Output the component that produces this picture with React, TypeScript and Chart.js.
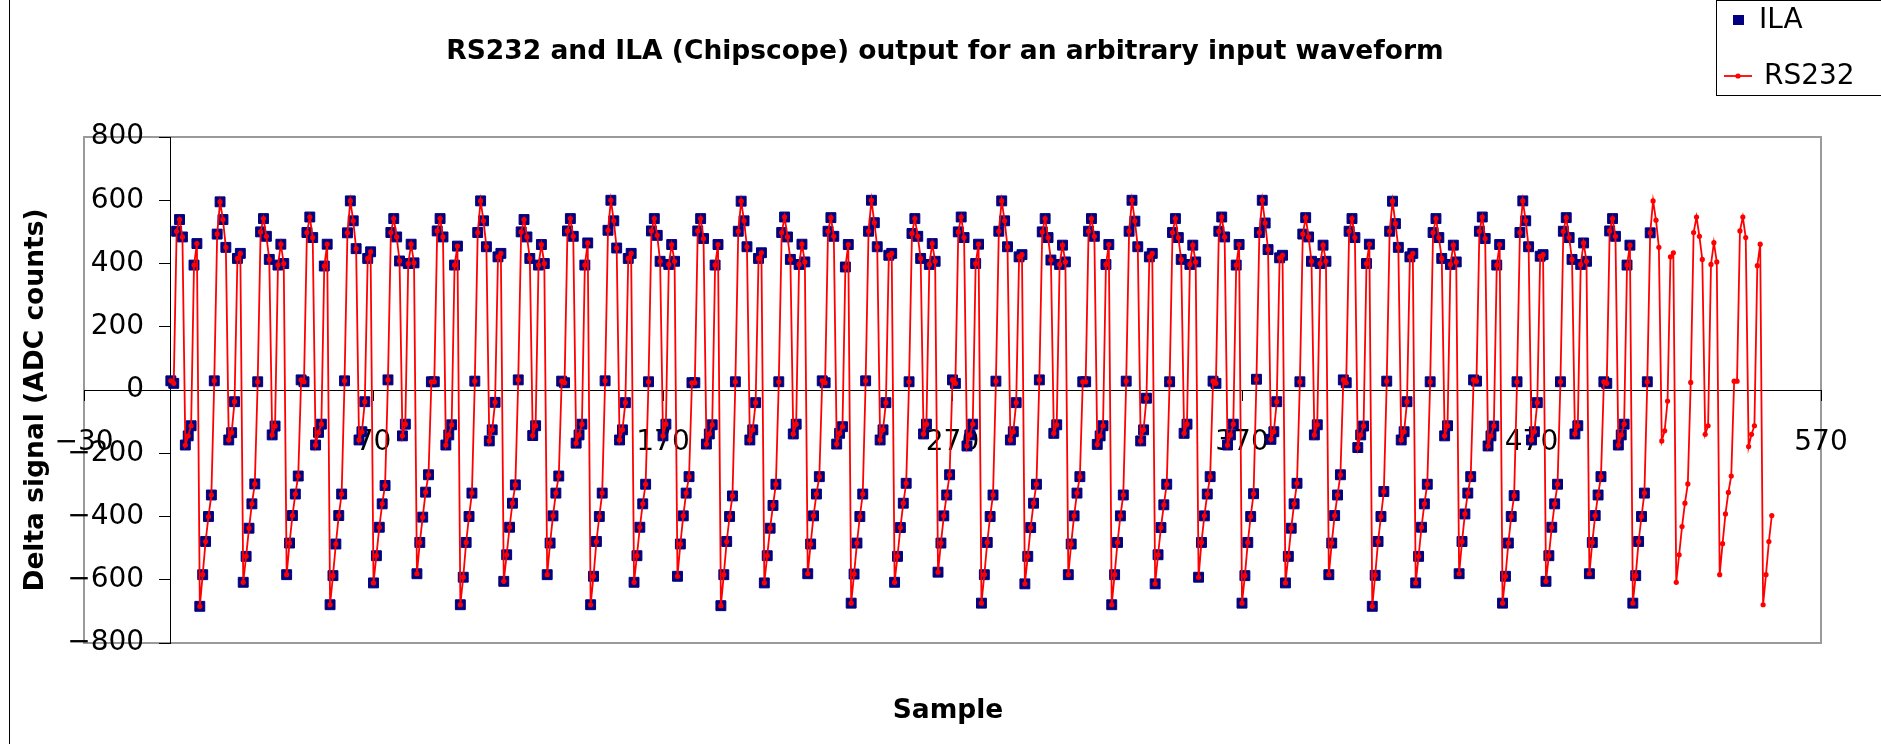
import React, { useEffect, useRef } from 'react';
import { Chart, registerables } from 'chart.js';

Chart.register(...registerables);

// Axis settings
const xMin = -30;
const xMax = 570;
const xStep = 100;
const yMin = -800;
const yMax = 800;
const yStep = 200;

// Number of samples captured by ILA (RS232 continues further)
const ilaCount = 512;

// RS232 / ILA values (ADC counts), one array per 45-sample repetition of the waveform
const cycle01 = [29, 21, 502, 539, 484, -174, -145, -113, 395, 463, -684, -584, -479, -400, -332, 29, 493, 595, 539, 451, -158, -135, -37, 416, 432, -608, -526, -437, -360, -297, 26, 500, 542, 486, 413, -142, -114, 395, 461, 400, -584, -484, -397, -329, -272];
const cycle02 = [32, 26, 498, 547, 482, -174, -134, -108, 392, 461, -679, -587, -487, -397, -329, 29, 497, 598, 535, 447, -158, -132, -37, 416, 437, -610, -524, -434, -360, -302, 32, 498, 542, 484, 408, -145, -108, 400, 461, 402, -581, -482, -402, -323, -268];
const cycle03 = [26, 26, 503, 542, 484, -174, -142, -110, 395, 455, -679, -592, -482, -400, -326, 28, 498, 598, 535, 453, -161, -126, -39, 421, 432, -605, -521, -434, -358, -300, 32, 500, 539, 484, 416, -144, -113, 395, 460, 400, -584, -484, -398, -326, -272];
const cycle04 = [28, 23, 503, 542, 486, -168, -142, -108, 395, 465, -679, -589, -479, -400, -326, 29, 505, 600, 535, 449, -158, -126, -40, 416, 432, -608, -524, -434, -360, -298, 26, 503, 542, 489, 407, -145, -108, 397, 460, 407, -589, -487, -398, -326, -274];
const cycle05 = [23, 23, 503, 542, 479, -171, -139, -110, 395, 460, -682, -584, -479, -400, -335, 26, 502, 597, 535, 453, -158, -126, -40, 416, 434, -610, -524, -437, -365, -298, 26, 498, 547, 484, 413, -139, -108, 397, 461, 405, -581, -487, -398, -329, -274];
const cycle06 = [29, 23, 502, 545, 486, -171, -137, -116, 389, 460, -674, -582, -484, -400, -329, 29, 502, 600, 529, 453, -158, -126, -40, 426, 432, -608, -526, -435, -358, -295, 26, 495, 542, 486, 416, -139, -108, 397, 463, 407, -576, -484, -398, -332, -268];
const cycle07 = [32, 21, 500, 547, 482, -177, -142, -108, 400, 461, -674, -584, -482, -400, -332, 28, 502, 598, 535, 453, -158, -132, -40, 421, 428, -613, -526, -435, -358, -298, 32, 500, 542, 482, 411, -137, -110, 397, 458, 405, -584, -487, -398, -326, -274];
const cycle08 = [26, 26, 502, 542, 486, -172, -145, -113, 397, 460, -679, -584, -482, -398, -332, 28, 502, 600, 534, 453, -161, -126, -26, 421, 432, -613, -521, -435, -363, -298, 26, 498, 542, 482, 413, -137, -108, 397, 458, 405, -592, -482, -398, -329, -274];
const cycle09 = [28, 21, 502, 547, 484, -174, -142, -108, 395, 460, -674, -587, -482, -400, -328, 34, 498, 600, 528, 444, -156, -132, -37, 418, 426, -610, -526, -437, -360, -295, 26, 493, 545, 484, 407, -142, -110, 400, 458, 407, -584, -484, -397, -332, -268];
const cycle10 = [32, 23, 502, 542, 482, -182, -142, -114, 400, 461, -684, -586, -479, -400, -321, 28, 502, 597, 526, 451, -158, -132, -37, 421, 432, -610, -526, -434, -360, -298, 26, 498, 542, 482, 416, -145, -113, 397, 458, 405, -581, -479, -392, -326, -274];
const cycle11 = [32, 28, 502, 547, 479, -177, -145, -114, 395, 460, -674, -589, -484, -400, -334, 26, 498, 598, 535, 453, -158, -132, -40, 423, 428, -605, -524, -434, -360, -298, 26, 502, 545, 482, 413, -139, -113, 397, 465, 407, -581, -482, -397, -332, -274];
const cycle12 = [26, 21, 503, 542, 486, -174, -142, -108, 395, 458, -674, -587, -479, -400, -326, 26, 497, 598, 537, 451, -161, -129, -35, 421, 434, -608, -521, -432, -358, -297, 24, 498, 547, 486, 413, -140, -113, 397, 466, 405, -584, -486, -392, -324, -272];
const cycle13 = [28, 28, 503, 547, 482, -179, -140, -113, 393, 461, -679, -584, -479, -397];

const rs232Values = [
  ...cycle01, ...cycle02, ...cycle03, ...cycle04, ...cycle05, ...cycle06, ...cycle07,
  ...cycle08, ...cycle09, ...cycle10, ...cycle11, ...cycle12, ...cycle13,
];
const ilaValues = rs232Values.slice(0, ilaCount);

const seriesNames = ['ILA', 'RS232'];
const titleText = 'RS232 and ILA (Chipscope) output for an arbitrary input waveform';
const xTitle = 'Sample';
const yTitle = 'Delta signal (ADC counts)';

const NAVY = '#000080';
const RED = '#FF0000';
const FONT = '"DejaVu Sans", "Liberation Sans", Arial, sans-serif';

const fmt = (v: number) => String(v).replace('-', '\u2212');

const decorPlugin = {
  id: 'decor',
  beforeDraw(chart: any) {
    const { ctx, chartArea: a } = chart;
    ctx.save();
    ctx.fillStyle = '#ffffff';
    ctx.fillRect(0, 0, chart.width, chart.height);
    // outer chart border (left side visible)
    ctx.strokeStyle = '#000000';
    ctx.lineWidth = 1;
    ctx.beginPath();
    ctx.moveTo(9.5, 0);
    ctx.lineTo(9.5, chart.height);
    ctx.stroke();
    // plot area border
    ctx.strokeStyle = '#9a9a9a';
    ctx.lineWidth = 2;
    ctx.strokeRect(a.left, a.top, a.right - a.left, a.bottom - a.top);
    ctx.restore();
  },
  afterDraw(chart: any) {
    const { ctx } = chart;
    ctx.save();
    ctx.fillStyle = '#000000';
    ctx.textAlign = 'center';
    ctx.textBaseline = 'middle';
    ctx.font = `bold 26.5px ${FONT}`;
    ctx.fillText(titleText, 945, 52);
    ctx.fillText(xTitle, 948, 711);
    ctx.save();
    ctx.translate(36, 400);
    ctx.rotate(-Math.PI / 2);
    ctx.fillText(yTitle, 0, 0);
    ctx.restore();

    // legend box
    ctx.strokeStyle = '#000000';
    ctx.lineWidth = 1;
    ctx.strokeRect(1716.5, 0.5, 200, 95);
    ctx.fillStyle = NAVY;
    ctx.fillRect(1733, 15, 11, 10);
    ctx.strokeStyle = RED;
    ctx.lineWidth = 1.8;
    ctx.beginPath();
    ctx.moveTo(1724, 76);
    ctx.lineTo(1752, 76);
    ctx.stroke();
    ctx.fillStyle = RED;
    ctx.beginPath();
    ctx.arc(1738, 76, 2.6, 0, Math.PI * 2);
    ctx.fill();
    ctx.fillStyle = '#000000';
    ctx.textAlign = 'left';
    ctx.font = `28px ${FONT}`;
    ctx.fillText(seriesNames[0], 1759, 21);
    ctx.fillText(seriesNames[1], 1764, 77);
    ctx.restore();
  },
};

export default function App() {
  const canvasRef = useRef<HTMLCanvasElement | null>(null);

  useEffect(() => {
    const canvas = canvasRef.current;
    if (!canvas) return;
    const chart = new Chart(canvas, {
      type: 'scatter',
      data: {
        datasets: [
          {
            label: seriesNames[0],
            data: ilaValues.map((v, i) => ({ x: i, y: v })),
            showLine: false,
            pointStyle: 'rect',
            pointRadius: 7,
            pointBackgroundColor: NAVY,
            pointBorderColor: NAVY,
            pointBorderWidth: 1,
            order: 1,
          },
          {
            label: seriesNames[1],
            data: rs232Values.map((v, i) => ({ x: i, y: v })),
            showLine: true,
            borderColor: RED,
            borderWidth: 1.8,
            pointStyle: 'circle',
            pointRadius: 2.6,
            pointBackgroundColor: RED,
            pointBorderColor: RED,
            pointBorderWidth: 0,
            order: 0,
          },
        ],
      },
      options: {
        animation: false,
        responsive: false,
        devicePixelRatio: 1,
        layout: { padding: { left: 84, top: 137, right: 60, bottom: 101 } },
        plugins: {
          legend: { display: false },
          title: { display: false },
          tooltip: { enabled: false },
        },
        scales: {
          x: {
            type: 'linear',
            position: { y: 0 } as any,
            min: xMin,
            max: xMax,
            ticks: {
              stepSize: xStep,
              autoSkip: false,
              maxRotation: 0,
              color: '#000',
              font: { family: FONT, size: 28 },
              padding: 26,
              callback: (v: any) => fmt(v),
            },
            grid: { drawOnChartArea: false, drawTicks: true, tickLength: 10, color: '#000' },
            border: { display: true, color: '#000', width: 1 },
          },
          y: {
            type: 'linear',
            position: { x: 0 } as any,
            min: yMin,
            max: yMax,
            ticks: {
              stepSize: yStep,
              color: '#000',
              font: { family: FONT, size: 28 },
              callback: (v: any) => `${fmt(v)}   `,
            },
            grid: { drawOnChartArea: false, drawTicks: true, tickLength: 11, color: '#000' },
            border: { display: true, color: '#000', width: 1 },
          },
        },
      },
      plugins: [decorPlugin],
    });
    return () => chart.destroy();
  }, []);

  return (
    <div style={{ position: 'fixed', left: 0, top: 0, width: 1881, height: 744, background: '#fff' }}>
      <canvas ref={canvasRef} width={1881} height={744} style={{ width: 1881, height: 744 }} />
    </div>
  );
}
